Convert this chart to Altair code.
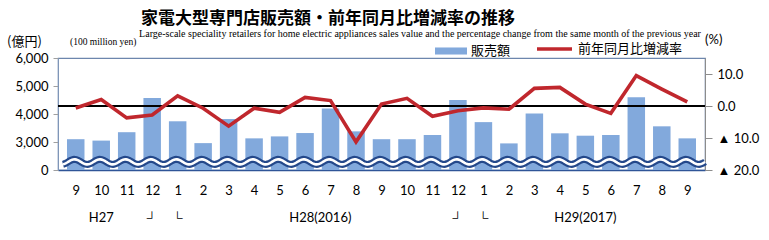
import json
import numpy as np
import pandas as pd
import altair as alt

# ---- data ----
months = ["9", "10", "11", "12", "1", "2", "3", "4", "5", "6", "7", "8", "9",
          "10", "11", "12", "1", "2", "3", "4", "5", "6", "7", "8", "9"]
sales = [3100, 3050, 3350, 4570, 3740, 2960, 3820, 3130, 3200, 3320, 4200, 3380, 3100,
         3100, 3250, 4500, 3710, 2950, 4020, 3310, 3225, 3250, 4600, 3560, 3130]
yoy = [-0.6, 2.0, -3.7, -2.8, 3.2, -0.7, -6.3, -0.7, -2.0, 2.7, 1.7, -11.2, 0.6,
       2.4, -3.2, -1.5, -0.6, -1.0, 5.5, 5.8, 0.6, -2.3, 9.5, 5.3, 1.3]
era_labels = ["H27", "┘", "└", "H28(2016)", "┘", "└", "H29(2017)"]
era_pos = [1, 3, 4, 9.6, 15, 16, 20]

bar_name = "販売額"
line_name = "前年同月比増減率"

df = pd.DataFrame({"i": list(range(len(months))), "sales": sales, "yoy": yoy,
                   "s1": bar_name, "s2": line_name})
era_df = pd.DataFrame({"x": era_pos, "label": era_labels})

# decorative axis-break wave
t = np.arange(-0.5, 24.72, 0.04)
wave_df = pd.DataFrame({"t": t, "w": 2290 + 90 * np.cos(2 * np.pi * (t + 0.05))})

W, H = 647, 112
BLUE = "#82a9dc"
RED = "#c0272d"
NAVY = "#24488a"
JP = "Noto Sans CJK JP"
NUM = "Lato"

xscale = alt.Scale(domain=[-0.5, 24.5], nice=False, zero=False)
xaxis = alt.Axis(values=list(range(25)), title=None, grid=False, ticks=False,
                 labelExpr=json.dumps(months) + "[datum.value]",
                 labelOverlap=False, labelBound=False, labelFlush=False,
                 labelFontSize=13, labelFont=NUM, labelColor="#000000",
                 labelPadding=14, domainColor="#2f5597", domainWidth=1.5)
left_scale = alt.Scale(domain=[2000, 6000], nice=False, zero=False)
right_scale = alt.Scale(domain=[-20, 15], nice=False, zero=False)

bars = alt.Chart(df).mark_bar(size=17.5).encode(
    x=alt.X("i:Q", scale=xscale, axis=xaxis),
    y=alt.Y("sales:Q", scale=left_scale,
            axis=alt.Axis(orient="left", values=[2000, 3000, 4000, 5000, 6000], title=None,
                          grid=False, labelExpr="datum.value == 2000 ? '0' : format(datum.value, ',')",
                          labelFontSize=13, labelFont=NUM, labelColor="#000000",
                          labelOverlap=False, tickSize=5, tickColor="#a0a0a0", labelPadding=5,
                          domainColor="#7f96b8")),
    y2=alt.datum(2000),
    fill=alt.Fill("s1:N", scale=alt.Scale(domain=[bar_name], range=[BLUE]),
                  legend=alt.Legend(orient="none", legendX=377, legendY=-23, title=None,
                                    symbolType="M-1,-0.22H1V0.22H-1Z", symbolSize=1024,
                                    symbolStrokeWidth=0, labelFont=JP, labelFontSize=13,
                                    labelColor="#000000", labelOffset=4, padding=0)),
)

wave1 = alt.Chart(wave_df).mark_line(color=NAVY, strokeWidth=7, clip=False).encode(
    x=alt.X("t:Q", scale=xscale, axis=xaxis),
    y=alt.Y("w:Q", scale=left_scale, axis=None),
)
wave2 = alt.Chart(wave_df).mark_line(color="#ffffff", strokeWidth=2.6, clip=False).encode(
    x=alt.X("t:Q", scale=xscale, axis=xaxis),
    y=alt.Y("w:Q", scale=left_scale, axis=None),
)

zero_rule = alt.Chart(df).mark_rule(color="#000000", strokeWidth=1.3).encode(
    y=alt.Y(datum=0, scale=right_scale, axis=None),
)

line = alt.Chart(df).mark_line(strokeWidth=3.6).encode(
    x=alt.X("i:Q", scale=xscale, axis=xaxis),
    y=alt.Y("yoy:Q", scale=right_scale,
            axis=alt.Axis(orient="right", values=[-20, -10, 0, 10], title=None, grid=False,
                          labelExpr="datum.value < 0 ? '▲ ' + format(-datum.value, '.1f') : format(datum.value, '.1f')",
                          labelFontSize=13, labelFont=NUM, labelColor="#000000",
                          labelOverlap=False, tickSize=7, tickColor="#8c8c8c", labelPadding=5,
                          domainColor="#8c8c8c")),
    stroke=alt.Stroke("s2:N", scale=alt.Scale(domain=[line_name], range=[RED]),
                      legend=alt.Legend(orient="none", legendX=477, legendY=-28.5, title=None,
                                        symbolType="stroke", symbolSize=1225,
                                        symbolStrokeWidth=3.6, labelFont=JP, labelFontSize=13,
                                        labelColor="#000000", labelOffset=4, padding=0)),
)

era = alt.Chart(era_df).mark_text(font=NUM, fontSize=13, baseline="middle",
                                  align="center", color="#000000").encode(
    x=alt.X("x:Q", scale=xscale, axis=xaxis),
    y=alt.value(160),
    text="label:N",
)


def note(txt, x, y, size, font, weight="normal", align="left"):
    return alt.Chart(pd.DataFrame({"t": [txt]})).mark_text(
        font=font, fontSize=size, fontWeight=weight, align=align,
        baseline="middle", color="#000000").encode(
        x=alt.value(x), y=alt.value(y), text="t:N")


title = note("家電大型専門店販売額・前年同月比増減率の推移", 270, -39, 17, JP, "bold", "center")
subtitle = note("Large-scale speciality retailers for home electric appliances sales value and "
                "the percentage change from the same month of the previous year",
                362, -24.5, 10, "Liberation Serif", "normal", "center")
unit_l = note("(億円)", -51, -16, 13, JP)
unit_l_en = note("(100 million yen)", 12, -16, 9.5, "Liberation Serif")
unit_r = note("(%)", 647, -18, 13, NUM)

chart = alt.layer(bars, wave1, wave2, zero_rule, line, era,
                  title, subtitle, unit_l, unit_l_en, unit_r).resolve_scale(
    y="independent"
).properties(
    width=W, height=H,
    autosize=alt.AutoSizeParams(type="none"),
    padding={"left": 58, "top": 58, "right": 64, "bottom": 70},
    background="#ffffff",
).configure_view(stroke="#6d86ad", strokeWidth=1.2).configure_axisX(
    labelOverlap=False
)

chart.save("out.html", embed_options={"renderer": "svg", "actions": False})
